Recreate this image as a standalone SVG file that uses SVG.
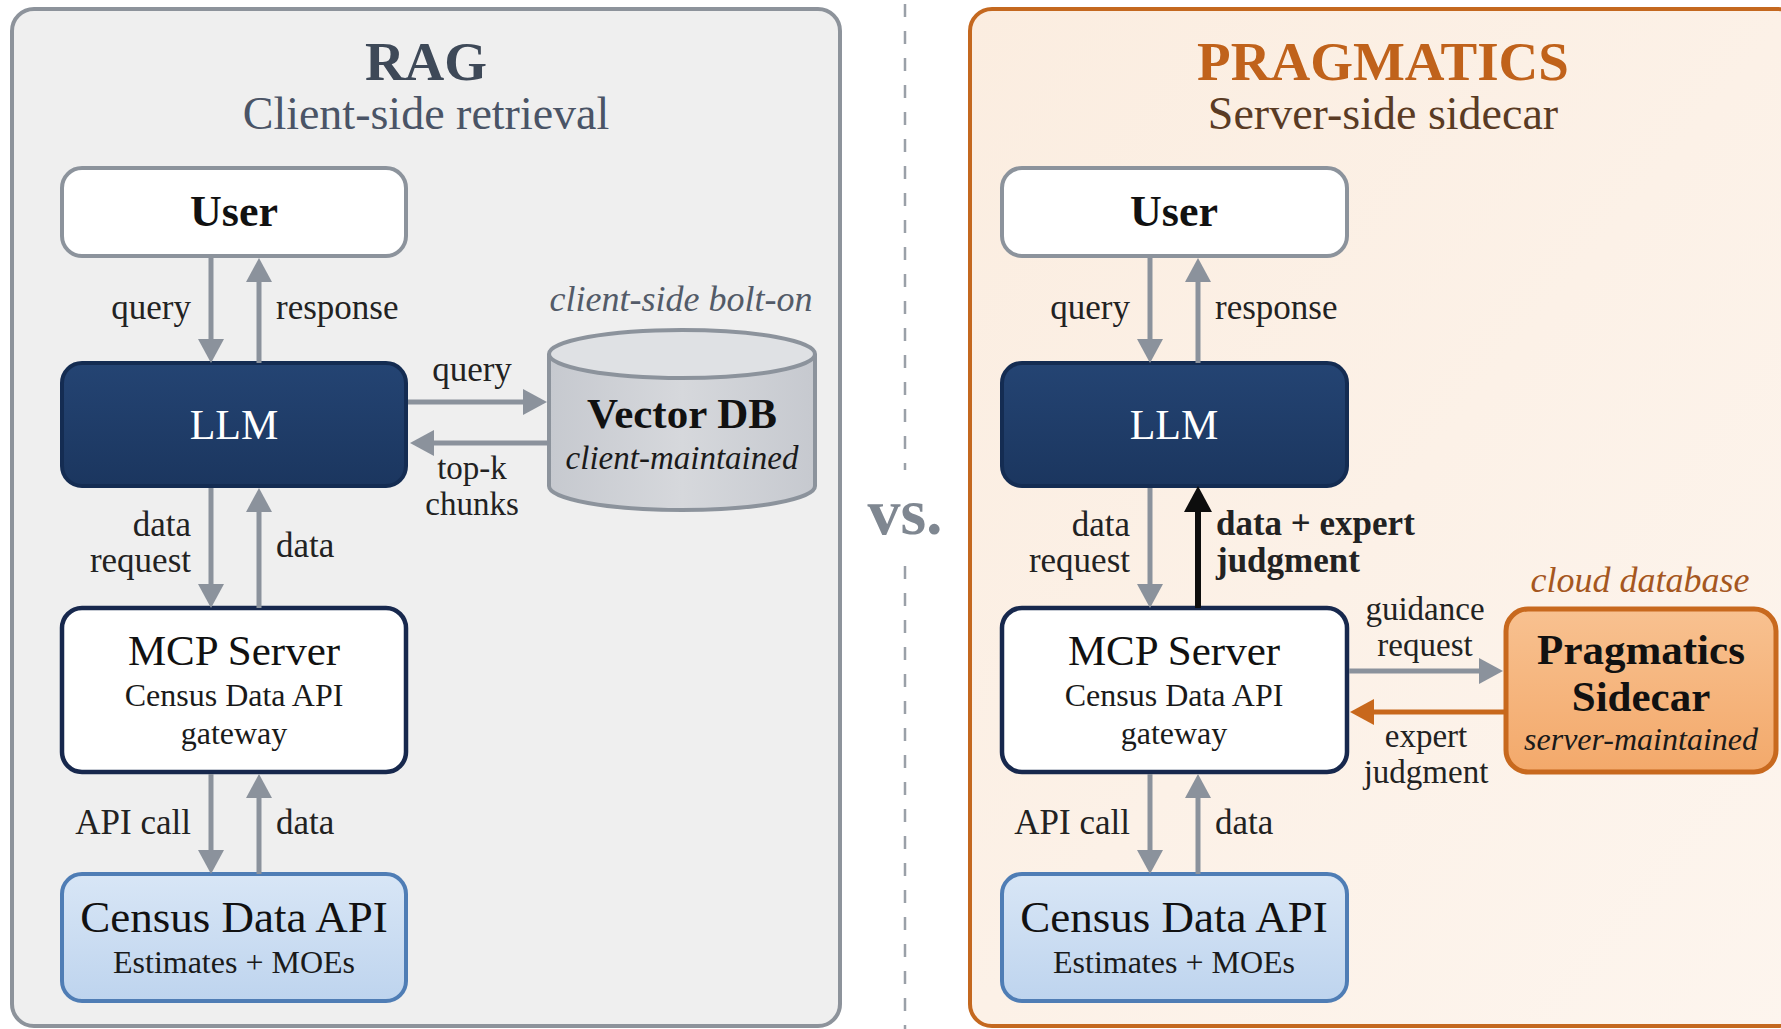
<svg xmlns="http://www.w3.org/2000/svg" width="1781" height="1029" viewBox="0 0 1781 1029">
<defs>
  <linearGradient id="gCensus" x1="0" y1="0" x2="0" y2="1"><stop offset="0" stop-color="#d8e6f6"/><stop offset="1" stop-color="#bed4ee"/></linearGradient>
  <linearGradient id="gLLM" x1="0" y1="0" x2="0" y2="1"><stop offset="0" stop-color="#244473"/><stop offset="1" stop-color="#1b365f"/></linearGradient>
  <linearGradient id="gPrag" x1="0" y1="0" x2="0" y2="1"><stop offset="0" stop-color="#f8c190"/><stop offset="1" stop-color="#f3a96b"/></linearGradient>
  <linearGradient id="gCyl" x1="0" y1="0" x2="1" y2="0"><stop offset="0" stop-color="#c6c9cf"/><stop offset="0.5" stop-color="#d6d8dc"/><stop offset="1" stop-color="#c6c9cf"/></linearGradient>
  <linearGradient id="gRight" x1="0" y1="0" x2="1" y2="1"><stop offset="0" stop-color="#fbede0"/><stop offset="1" stop-color="#fdf5ee"/></linearGradient>
  <marker id="ahGray" markerUnits="userSpaceOnUse" markerWidth="26" markerHeight="26" refX="12" refY="13" orient="auto"><path d="M0,0 L24,13 L0,26 z" fill="#8b929c"/></marker>
  <marker id="ahBlack" markerUnits="userSpaceOnUse" markerWidth="27" markerHeight="28" refX="12" refY="14" orient="auto"><path d="M0,0 L26,14 L0,28 z" fill="#0d0d0d"/></marker>
  <marker id="ahOrange" markerUnits="userSpaceOnUse" markerWidth="26" markerHeight="26" refX="12" refY="13" orient="auto"><path d="M0,0 L24,13 L0,26 z" fill="#c8681c"/></marker>
  <style>
    text { font-family: "Liberation Serif", "DejaVu Serif", serif; }
    .lbl { font-size: 35px; fill: #222; }
    .lbl2 { font-size: 33px; fill: #222; }
    .end { text-anchor: end; }
    .mid { text-anchor: middle; }
    .box { stroke-width: 4; }
    .garrow { stroke: #8b929c; stroke-width: 5; fill: none; marker-end: url(#ahGray); }
    .barrow { stroke: #0d0d0d; stroke-width: 6; fill: none; marker-end: url(#ahBlack); }
    .oarrow { stroke: #c8681c; stroke-width: 5; fill: none; marker-end: url(#ahOrange); }
    .userbox { fill: #ffffff; stroke: #8c939c; }
    .llmbox { fill: url(#gLLM); stroke: #142c52; }
    .mcpbox { fill: #ffffff; stroke: #17284d; stroke-width: 4.5; }
    .censusbox { fill: url(#gCensus); stroke: #4f7db5; }
    .t-user { font-size: 44px; font-weight: bold; fill: #111; text-anchor: middle; }
    .t-llm { font-size: 42px; fill: #ffffff; text-anchor: middle; }
    .t-mcp { font-size: 43px; fill: #111; text-anchor: middle; }
    .t-sub { font-size: 32px; fill: #1a1a1a; text-anchor: middle; }
    .t-census { font-size: 45px; fill: #111; text-anchor: middle; }
  </style>
</defs>

<g id="panel-rag">
  <rect x="12" y="9" width="828" height="1017" rx="22" fill="#efefef" stroke="#8d939b" stroke-width="4"/>
  <text x="426" y="80" class="mid" font-size="55" font-weight="bold" fill="#3e4958">RAG</text>
  <text x="426" y="129" class="mid" font-size="46" fill="#4a5466">Client-side retrieval</text>
</g>

<g id="divider">
  <line x1="905" y1="4" x2="905" y2="470" stroke="#9aa0a8" stroke-width="2.5" stroke-dasharray="13 14"/>
  <line x1="905" y1="566" x2="905" y2="1029" stroke="#9aa0a8" stroke-width="2.5" stroke-dasharray="13 14"/>
  <text x="905" y="534" class="mid" font-size="66" font-weight="bold" fill="#7f8791">vs.</text>
</g>

<g id="panel-pragmatics">
  <rect x="970" y="9" width="830" height="1017" rx="22" fill="url(#gRight)" stroke="#c4681f" stroke-width="4"/>
  <text x="1383" y="80" class="mid" font-size="55" font-weight="bold" fill="#c0621b">PRAGMATICS</text>
  <text x="1383" y="129" class="mid" font-size="46" fill="#5a3b24">Server-side sidecar</text>
</g>

<!-- Left column nodes -->
<g id="rag-user">
  <rect x="62" y="168" width="344" height="88" rx="20" class="box userbox"/>
  <text x="234" y="226" class="t-user">User</text>
</g>
<g id="rag-llm">
  <rect x="62" y="363" width="344" height="123" rx="20" class="box llmbox"/>
  <text x="234" y="439" class="t-llm">LLM</text>
</g>
<g id="rag-vectordb">
  <text x="681" y="311" class="mid" font-size="36" font-style="italic" fill="#535b68">client-side bolt-on</text>
  <path d="M549,354 L549,486 A133,24 0 0 0 815,486 L815,354" fill="url(#gCyl)" stroke="#8c939c" stroke-width="4"/>
  <ellipse cx="682" cy="354" rx="133" ry="24" fill="#dfe1e4" stroke="#8c939c" stroke-width="4"/>
  <text x="682" y="428" class="mid" font-size="43" font-weight="bold" fill="#111">Vector DB</text>
  <text x="682" y="469" class="mid" font-size="33" font-style="italic" fill="#1a1a1a">client-maintained</text>
</g>
<g id="rag-mcp">
  <rect x="62" y="608" width="344" height="164" rx="20" class="box mcpbox"/>
  <text x="234" y="665" class="t-mcp">MCP Server</text>
  <text x="234" y="706" class="t-sub">Census Data API</text>
  <text x="234" y="744" class="t-sub">gateway</text>
</g>
<g id="rag-census">
  <rect x="62" y="874" width="344" height="127" rx="20" class="box censusbox"/>
  <text x="234" y="932" class="t-census">Census Data API</text>
  <text x="234" y="973" class="t-sub">Estimates + MOEs</text>
</g>

<!-- Right column nodes -->
<g id="prag-user">
  <rect x="1002" y="168" width="345" height="88" rx="20" class="box userbox"/>
  <text x="1174" y="226" class="t-user">User</text>
</g>
<g id="prag-llm">
  <rect x="1002" y="363" width="345" height="123" rx="20" class="box llmbox"/>
  <text x="1174" y="439" class="t-llm">LLM</text>
</g>
<g id="prag-mcp">
  <rect x="1002" y="608" width="345" height="164" rx="20" class="box mcpbox"/>
  <text x="1174" y="665" class="t-mcp">MCP Server</text>
  <text x="1174" y="706" class="t-sub">Census Data API</text>
  <text x="1174" y="744" class="t-sub">gateway</text>
</g>
<g id="prag-census">
  <rect x="1002" y="874" width="345" height="127" rx="20" class="box censusbox"/>
  <text x="1174" y="932" class="t-census">Census Data API</text>
  <text x="1174" y="973" class="t-sub">Estimates + MOEs</text>
</g>
<g id="prag-sidecar">
  <text x="1640" y="592" class="mid" font-size="36" font-style="italic" fill="#a5571f">cloud database</text>
  <rect x="1506" y="609" width="270" height="163" rx="22" fill="url(#gPrag)" stroke="#c8691e" stroke-width="5"/>
  <text x="1641" y="664" class="mid" font-size="43" font-weight="bold" fill="#111">Pragmatics</text>
  <text x="1641" y="711" class="mid" font-size="43" font-weight="bold" fill="#111">Sidecar</text>
  <text x="1641" y="750" class="mid" font-size="32" font-style="italic" fill="#1a1a1a">server-maintained</text>
</g>

<!-- Connectors -->
<g id="connectors">
  <!-- left -->
  <line x1="211" y1="258" x2="211" y2="351" class="garrow"/>
  <line x1="259" y1="363" x2="259" y2="270" class="garrow"/>
  <line x1="211" y1="488" x2="211" y2="596" class="garrow"/>
  <line x1="259" y1="608" x2="259" y2="500" class="garrow"/>
  <line x1="211" y1="774" x2="211" y2="862" class="garrow"/>
  <line x1="259" y1="874" x2="259" y2="786" class="garrow"/>
  <line x1="408" y1="402" x2="535" y2="402" class="garrow"/>
  <line x1="549" y1="443" x2="422" y2="443" class="garrow"/>
  <!-- right -->
  <line x1="1150" y1="258" x2="1150" y2="351" class="garrow"/>
  <line x1="1198" y1="363" x2="1198" y2="270" class="garrow"/>
  <line x1="1150" y1="488" x2="1150" y2="596" class="garrow"/>
  <line x1="1198" y1="608" x2="1198" y2="500" class="barrow"/>
  <line x1="1150" y1="774" x2="1150" y2="862" class="garrow"/>
  <line x1="1198" y1="874" x2="1198" y2="786" class="garrow"/>
  <line x1="1349" y1="671" x2="1491" y2="671" class="garrow"/>
  <line x1="1506" y1="712" x2="1362" y2="712" class="oarrow"/>

  <!-- labels left -->
  <text x="191" y="319" class="lbl end">query</text>
  <text x="276" y="319" class="lbl">response</text>
  <text x="472" y="381" class="lbl mid">query</text>
  <text x="472" y="479" class="lbl2 mid">top-k</text>
  <text x="472" y="515" class="lbl2 mid">chunks</text>
  <text x="191" y="536" class="lbl end">data</text>
  <text x="191" y="572" class="lbl end">request</text>
  <text x="276" y="557" class="lbl">data</text>
  <text x="191" y="834" class="lbl end">API call</text>
  <text x="276" y="834" class="lbl">data</text>
  <!-- labels right -->
  <text x="1130" y="319" class="lbl end">query</text>
  <text x="1215" y="319" class="lbl">response</text>
  <text x="1130" y="536" class="lbl end">data</text>
  <text x="1130" y="572" class="lbl end">request</text>
  <text x="1216" y="535" class="lbl" font-weight="bold" fill="#111">data + expert</text>
  <text x="1216" y="572" class="lbl" font-weight="bold" fill="#111">judgment</text>
  <text x="1425" y="620" class="lbl2 mid">guidance</text>
  <text x="1425" y="656" class="lbl2 mid">request</text>
  <text x="1426" y="747" class="lbl2 mid">expert</text>
  <text x="1426" y="783" class="lbl2 mid">judgment</text>
  <text x="1130" y="834" class="lbl end">API call</text>
  <text x="1215" y="834" class="lbl">data</text>
</g>
</svg>
